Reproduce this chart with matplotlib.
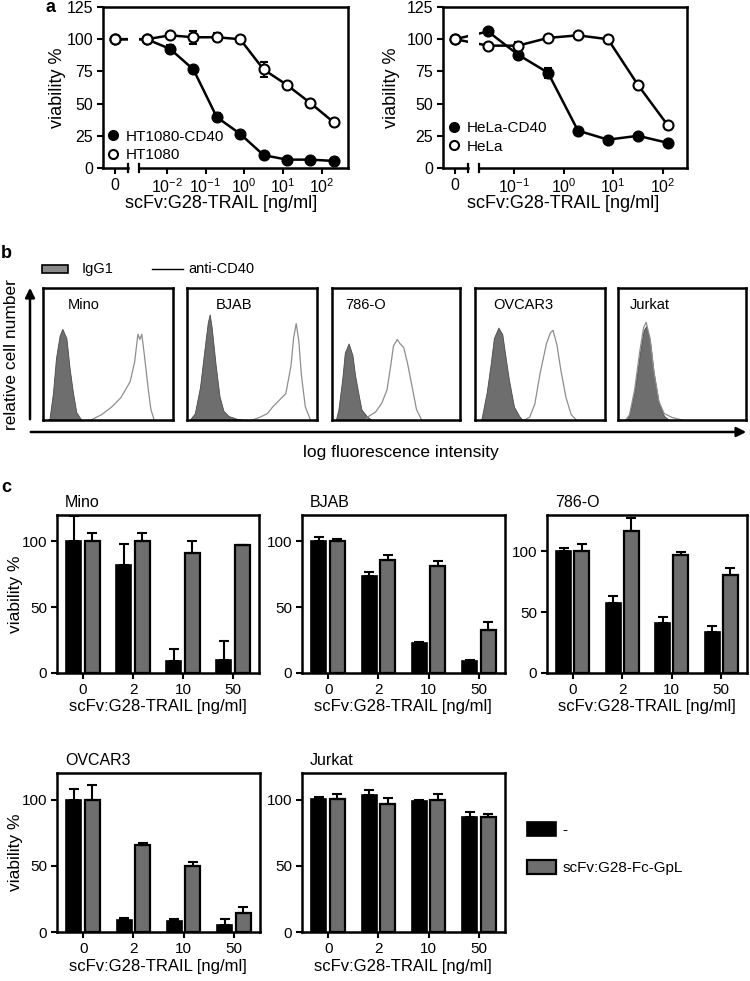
import numpy as np
import matplotlib
matplotlib.use("Agg")
import matplotlib.pyplot as plt
from matplotlib.lines import Line2D

plt.rcParams['font.family'] = ['Liberation Sans', 'DejaVu Sans']
plt.rcParams['mathtext.fontset'] = 'custom'
plt.rcParams['mathtext.rm'] = 'Liberation Sans'

W, H = 750, 981

# --- panel a: dose response ---
conc_ht = [0, 0.00305, 0.0122, 0.0488, 0.195, 0.781, 3.125, 12.5, 50, 200]
ht_cd40 = [100, 100, 92.5, 76.5, 39.5, 26.5, 10, 6.5, 6.5, 5.5]
ht_cd40_err = [2, 1, 3, 2, 3, 1, 1, 1, 1, 1]
ht1080 = [100, 100, 103, 101.5, 101.5, 100, 76.5, 64.5, 50.5, 35.5]
ht1080_err = [2, 1, 1, 5, 3, 1, 6, 2, 2.5, 1]

conc_hela = [0, 0.0305, 0.122, 0.488, 1.95, 7.81, 31.25, 125]
hela_cd40 = [100, 106, 88, 74, 29, 22, 25, 19.5]
hela_cd40_err = [1, 1, 3, 4, 1, 1, 1, 1]
hela = [100, 95, 95, 101, 103, 100, 64.5, 33]
hela_err = [1, 1, 3, 1, 1, 2, 2.5, 3]

# --- panel b: flow histograms (fraction of box width / height) ---
cells_b = ['Mino', 'BJAB', '786-O', 'OVCAR3', 'Jurkat']
label_x_b = [0.19, 0.22, 0.10, 0.14, 0.09]
igg_x = [
    [0.03, 0.05, 0.077, 0.10, 0.128, 0.149, 0.18, 0.205, 0.23, 0.256, 0.295],
    [0.02, 0.06, 0.10, 0.13, 0.16, 0.175, 0.19, 0.22, 0.25, 0.28, 0.32, 0.38, 0.45],
    [0.03, 0.05, 0.08, 0.10, 0.13, 0.16, 0.18, 0.21, 0.23, 0.27, 0.31],
    [0.04, 0.05, 0.09, 0.12, 0.145, 0.18, 0.21, 0.23, 0.26, 0.30, 0.34, 0.365],
    [0.06, 0.09, 0.13, 0.17, 0.20, 0.22, 0.25, 0.28, 0.32, 0.36, 0.40],
]
igg_y = [
    [0, 0.01, 0.21, 0.47, 0.64, 0.69, 0.62, 0.39, 0.21, 0.06, 0.0],
    [0, 0.05, 0.25, 0.50, 0.74, 0.80, 0.70, 0.42, 0.18, 0.07, 0.03, 0.01, 0],
    [0, 0.08, 0.31, 0.51, 0.58, 0.49, 0.34, 0.18, 0.08, 0.03, 0],
    [0, 0.01, 0.21, 0.42, 0.62, 0.70, 0.65, 0.51, 0.31, 0.10, 0.03, 0],
    [0, 0.04, 0.22, 0.50, 0.68, 0.71, 0.60, 0.35, 0.12, 0.03, 0],
]
cd40_x = [
    [0.37, 0.45, 0.53, 0.60, 0.67, 0.705, 0.73, 0.745, 0.76, 0.78, 0.81, 0.83, 0.855],
    [0.50, 0.56, 0.62, 0.66, 0.70, 0.76, 0.80, 0.82, 0.84, 0.86, 0.88, 0.91, 0.95],
    [0.26, 0.29, 0.34, 0.39, 0.43, 0.46, 0.48, 0.51, 0.53, 0.56, 0.59, 0.63, 0.66, 0.70],
    [0.38, 0.42, 0.46, 0.50, 0.55, 0.58, 0.60, 0.63, 0.66, 0.70, 0.74, 0.78],
    [0.06, 0.09, 0.13, 0.17, 0.20, 0.22, 0.25, 0.28, 0.32, 0.36, 0.42, 0.50],
]
cd40_y = [
    [0.0, 0.04, 0.10, 0.17, 0.29, 0.44, 0.65, 0.61, 0.65, 0.49, 0.23, 0.08, 0.0],
    [0, 0.02, 0.05, 0.10, 0.14, 0.20, 0.41, 0.62, 0.73, 0.60, 0.34, 0.10, 0],
    [0, 0.03, 0.06, 0.13, 0.23, 0.42, 0.56, 0.61, 0.58, 0.55, 0.43, 0.23, 0.08, 0],
    [0, 0.02, 0.12, 0.35, 0.58, 0.66, 0.68, 0.57, 0.38, 0.17, 0.04, 0],
    [0, 0.04, 0.23, 0.52, 0.70, 0.74, 0.62, 0.37, 0.14, 0.05, 0.02, 0],
]

# --- panel c: bar charts ---
doses = ['0', '2', '10', '50']
mino_blk, mino_blk_err = [100, 82, 9, 10], [19, 16, 9, 14]
mino_gry, mino_gry_err = [100, 100, 91, 97], [6, 6, 9, 0.5]
bjab_blk, bjab_blk_err = [100, 74, 22.5, 9], [3, 2.5, 1, 1]
bjab_gry, bjab_gry_err = [100, 85.5, 81.5, 32.5], [2, 4, 3.5, 6.5]
rcc_blk, rcc_blk_err = [100, 57.5, 41.5, 33.5], [3, 6, 4.5, 5.5]
rcc_gry, rcc_gry_err = [100, 116.5, 97.5, 80.5], [6, 11, 2, 5.5]
ovc_blk, ovc_blk_err = [100, 9, 8.5, 5], [8, 1.5, 1.2, 4.5]
ovc_gry, ovc_gry_err = [100, 66, 50, 14], [11, 0.8, 2.5, 4.5]
jur_blk, jur_blk_err = [100.5, 103.5, 98.5, 87], [1.5, 4, 1, 3.5]
jur_gry, jur_gry_err = [100.5, 96.5, 100, 87], [4, 5, 4.5, 2]

GRAY = '#6e6e6e'


def box(l, t, r, b):
    return [l / W, 1 - b / H, (r - l) / W, (b - t) / H]


fig = plt.figure(figsize=(7.5, 9.81), dpi=100)


def dose_panel(rect, conc, series, labels, zero_pos, brk, xlim, decades, leg_anchor):
    ax = fig.add_axes(box(*rect))
    pos = [zero_pos if c == 0 else np.log10(c) for c in conc]
    handles = []
    for (vals, err, face), lab in zip(series, labels):
        ax.errorbar(pos, vals, yerr=err, color='k', lw=1.8, marker='o', ms=7.2,
                    mfc=face, mec='k', mew=1.5, capsize=3, elinewidth=1.4,
                    capthick=1.4, zorder=3)
        handles.append(Line2D([], [], ls='none', marker='o', ms=6.5, mfc=face,
                              mec='k', mew=1.5, label=lab))
    # gap of the broken axis
    ax.axvspan(brk[0], brk[1], color='white', lw=0, zorder=3.5)
    ax.set_xlim(*xlim)
    ax.set_ylim(0, 125)
    ax.set_yticks([0, 25, 50, 75, 100, 125])
    ax.set_xticks([zero_pos] + decades)
    ax.set_xticklabels(['0'] + ['$\\mathregular{10^{%d}}$' % d for d in decades])
    for s in ax.spines.values():
        s.set_linewidth(1.8)
        s.set_zorder(4)
    ax.spines['bottom'].set_visible(False)
    ax.plot([xlim[0], brk[0]], [0, 0], color='k', lw=1.8, clip_on=False, zorder=5)
    ax.plot([brk[1], xlim[1]], [0, 0], color='k', lw=1.8, clip_on=False, zorder=5)
    for b in brk:
        ax.plot([b, b], [-3, 3], color='k', lw=1.6, clip_on=False, zorder=5)
    ax.tick_params(direction='out', length=4, width=1.5, labelsize=11.5, pad=3)
    ax.legend(handles=handles, loc='lower left', bbox_to_anchor=leg_anchor,
              frameon=False, fontsize=11, handlelength=0.9, handletextpad=0.4,
              labelspacing=0.3, borderpad=0, borderaxespad=0)
    return ax


dose_panel((103, 7, 348, 168), conc_ht,
           [(ht_cd40, ht_cd40_err, 'k'), (ht1080, ht1080_err, 'white')],
           ['HT1080-CD40', 'HT1080'], -3.33, (-3.0, -2.72), (-3.64, 2.67),
           [-2, -1, 0, 1, 2], (0.012, 0.035))
dose_panel((443, 7, 687, 168), conc_hela,
           [(hela_cd40, hela_cd40_err, 'k'), (hela, hela_err, 'white')],
           ['HeLa-CD40', 'HeLa'], -2.18, (-1.92, -1.70), (-2.42, 2.48),
           [-1, 0, 1, 2], (0.016, 0.09))

# --- panel b ---
boxes_b = [(43, 288, 173, 420), (187, 288, 317, 420), (332, 288, 460, 420),
           (475, 288, 605, 420), (618, 288, 746, 420)]
for i, rect in enumerate(boxes_b):
    ax = fig.add_axes(box(*rect))
    ax.fill_between(igg_x[i], igg_y[i], color=GRAY, lw=0.6, edgecolor='#4a4a4a')
    ax.plot(cd40_x[i], cd40_y[i], color='#8e8e8e', lw=0.9)
    ax.set_xlim(0, 1)
    ax.set_ylim(0, 1)
    ax.set_xticks([])
    ax.set_yticks([])
    for s in ax.spines.values():
        s.set_linewidth(1.8)
    ax.text(label_x_b[i], 0.87, cells_b[i], transform=ax.transAxes,
            fontsize=10.5, va='center', ha='left')

# --- panel c ---
def bar_panel(rect, title, blk, blk_err, gry, gry_err, ymax):
    ax = fig.add_axes(box(*rect))
    x = np.arange(len(doses))
    ekw = dict(capsize=3.5, elinewidth=1.5, capthick=1.5, ecolor='k')
    b1 = ax.bar(x - 0.185, blk, 0.3, color='k', edgecolor='k', lw=1.2,
                yerr=[np.zeros(len(blk)), blk_err], error_kw=ekw, label='-')
    b2 = ax.bar(x + 0.185, gry, 0.3, color=GRAY, edgecolor='k', lw=1.6,
                yerr=[np.zeros(len(gry)), gry_err], error_kw=ekw,
                label='scFv:G28-Fc-GpL')
    ax.set_xlim(-0.52, 3.52)
    ax.set_ylim(0, ymax)
    ax.set_yticks([0, 50, 100])
    ax.set_xticks(x)
    ax.set_xticklabels(doses)
    for s in ax.spines.values():
        s.set_linewidth(1.8)
    ax.tick_params(direction='out', length=4, width=1.5, labelsize=11, pad=3)
    ax.text(0.04, 1.03, title, transform=ax.transAxes, fontsize=11.5,
            ha='left', va='bottom')
    return ax, b1, b2


bar_panel((57, 515, 259, 673), 'Mino', mino_blk, mino_blk_err, mino_gry, mino_gry_err, 120)
bar_panel((302, 515, 505, 673), 'BJAB', bjab_blk, bjab_blk_err, bjab_gry, bjab_gry_err, 120)
bar_panel((547, 515, 747, 673), '786-O', rcc_blk, rcc_blk_err, rcc_gry, rcc_gry_err, 130)
bar_panel((57, 773, 260, 932), 'OVCAR3', ovc_blk, ovc_blk_err, ovc_gry, ovc_gry_err, 120)
ax_j, hb1, hb2 = bar_panel((302, 773, 505, 932), 'Jurkat', jur_blk, jur_blk_err,
                           jur_gry, jur_gry_err, 120)
fig.legend(handles=[hb1, hb2], loc='upper left',
           bbox_to_anchor=(527 / W, 1 - 822 / H), frameon=False, fontsize=11,
           handlelength=1.9, handleheight=1.0, handletextpad=0.4,
           labelspacing=1.5, borderpad=0, borderaxespad=0)

# --- overlay for free text and arrows (pixel coordinates) ---
ov = fig.add_axes([0, 0, 1, 1])
ov.set_xlim(0, W)
ov.set_ylim(H, 0)
ov.axis('off')

for lab, x, y in [('a', 50, 7), ('b', 6, 254), ('c', 6, 487)]:
    ov.text(x, y, lab, fontsize=13, fontweight='bold', ha='center', va='center')

# panel a labels
ov.text(221, 203, 'scFv:G28-TRAIL [ng/ml]', fontsize=13, ha='center', va='center')
ov.text(563, 203, 'scFv:G28-TRAIL [ng/ml]', fontsize=13, ha='center', va='center')
ov.text(57, 88, 'viability %', fontsize=13, rotation=90, ha='center', va='center')
ov.text(391, 88, 'viability %', fontsize=13, rotation=90, ha='center', va='center')

# panel b legend, arrows, labels
ov.add_patch(plt.Rectangle((42, 265), 26, 8, facecolor='#8a8a8a', edgecolor='k', lw=1.2))
ov.text(82, 269, 'IgG1', fontsize=10.5, va='center')
ov.plot([152, 183], [269, 269], color='k', lw=1)
ov.text(188, 269, 'anti-CD40', fontsize=10.5, va='center')
ov.annotate('', xy=(30, 285), xytext=(30, 422),
            arrowprops=dict(arrowstyle='-|>', color='k', lw=1.8, mutation_scale=14))
ov.annotate('', xy=(749, 432), xytext=(28, 432),
            arrowprops=dict(arrowstyle='-|>', color='k', lw=1.8, mutation_scale=14))
ov.text(12, 355, 'relative cell number', fontsize=12.5, rotation=90,
        ha='center', va='center')
ov.text(401, 452, 'log fluorescence intensity', fontsize=12.5, ha='center', va='center')

# panel c axis labels
for cx, cy in [(158, 707), (403, 707), (647, 707), (158, 967), (403, 967)]:
    ov.text(cx, cy, 'scFv:G28-TRAIL [ng/ml]', fontsize=12, ha='center', va='center')
for cy in [594, 852]:
    ov.text(16, cy, 'viability %', fontsize=12.5, rotation=90, ha='center', va='center')

fig.savefig('out.png', dpi=100)
